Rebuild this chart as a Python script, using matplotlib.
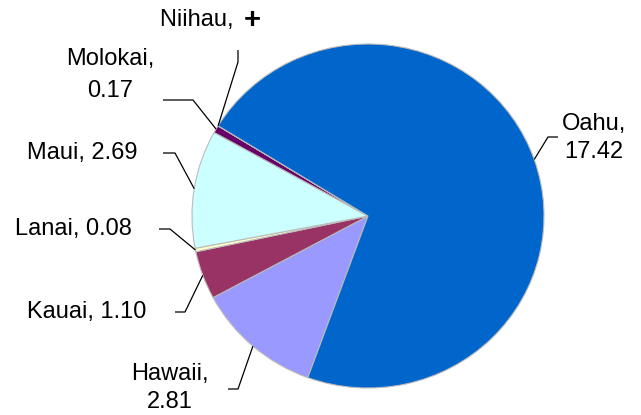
import matplotlib
matplotlib.use("Agg")
import matplotlib.pyplot as plt
import numpy as np

# Data (clockwise order starting at the bottom)
islands = ["Hawaii", "Kauai", "Lanai", "Maui", "Molokai", "Niihau", "Oahu"]
values = [2.81, 1.10, 0.08, 2.69, 0.17, 0.002, 17.42]
value_labels = ["2.81", "1.10", "0.08", "2.69", "0.17", "+", "17.42"]
colors = ["#9999FF", "#993366", "#FFFFCC", "#CCFFFF", "#660066", "#FF8080", "#0066CC"]

W, H = 641, 415
fig = plt.figure(figsize=(W / 100, H / 100), dpi=100)
plt.rcParams['font.family'] = ['Liberation Sans', 'DejaVu Sans']

# pie placement (pixels)
cx, cy, rx, ry = 368, 216, 176, 172
ax = fig.add_axes([(cx - rx) / W, (H - cy - ry) / H, 2 * rx / W, 2 * ry / H])
wedges, _ = ax.pie(values, colors=colors, startangle=250, counterclock=False,
                   radius=1.0, wedgeprops=dict(edgecolor="#BBBBBB", linewidth=0.8))
ax.set_aspect('auto')
ax.set_xlim(-1, 1)
ax.set_ylim(-1, 1)


def px(p):
    return ((p[0] - cx) / rx, (cy - p[1]) / ry)


# layout: elbow points, line ends, text centres, line spacing (pixels)
layout = {
    "Oahu":    dict(pts=[(548, 137), (558, 137)], text=(594, 138), two=True, ls=1.35),
    "Hawaii":  dict(pts=[(238, 389), (228, 389)], text=(170, 388), two=True, ls=1.35),
    "Kauai":   dict(pts=[(185, 312), (175, 312)], text=(87, 312), two=False, ls=1.3),
    "Lanai":   dict(pts=[(170, 229), (159, 229)], text=(73, 229), two=False, ls=1.3),
    "Maui":    dict(pts=[(175, 153), (163, 153)], text=(82, 153), two=False, ls=1.3),
    "Molokai": dict(pts=[(193, 100), (163, 100)], text=(110, 75), two=True, ls=1.55),
    "Niihau":  dict(pts=[(238, 62), (238, 50)], text=(240, 20), two=False, ls=1.3),
}

fs = 17
for w, name, vl in zip(wedges, islands, value_labels):
    mid = np.deg2rad((w.theta1 + w.theta2) / 2)
    start = (np.cos(mid), np.sin(mid))
    L = layout[name]
    pts = [start] + [px(p) for p in L["pts"]]
    xs, ys = zip(*pts)
    ax.plot(xs, ys, color="black", lw=0.9, clip_on=False, solid_capstyle="butt")
    tx, ty = px(L["text"])
    if name == "Niihau":
        ax.text(tx, ty, name + ", ", ha="right", va="center", fontsize=fs, clip_on=False)
        ax.text(tx + 0.02, ty, vl, ha="left", va="center", fontsize=fs + 4, fontweight="bold",
                clip_on=False)
        continue
    s = f"{name},\n{vl}" if L["two"] else f"{name}, {vl}"
    ax.text(tx, ty, s, ha="center", va="center", multialignment="center",
            fontsize=fs, linespacing=L["ls"], clip_on=False)

fig.savefig("out.png", dpi=100)
